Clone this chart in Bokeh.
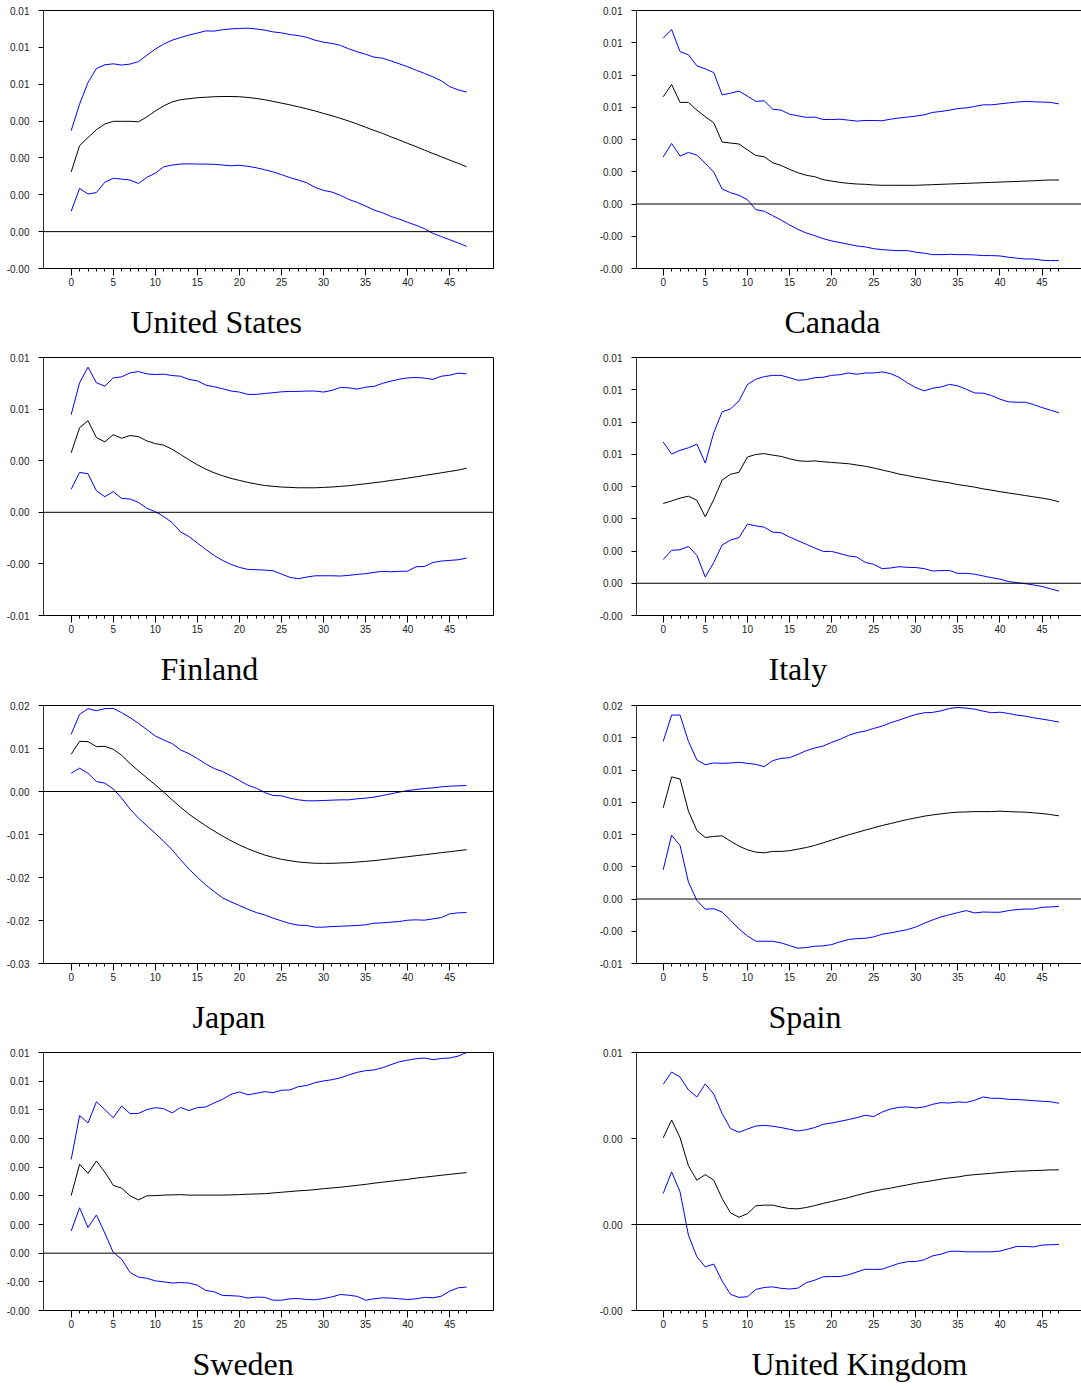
from bokeh.plotting import figure
from bokeh.models import FixedTicker, Span, LinearAxis, Title
from bokeh.layouts import row, column
from bokeh.embed import file_html
from bokeh.resources import INLINE

# horizon (periods)
steps = list(range(48))
x_major = [0, 5, 10, 15, 20, 25, 30, 35, 40, 45]

# values in units of 1e-3
us_upper = [4.11,5.19,6.07,6.64,6.79,6.83,6.78,6.82,6.92,7.18,7.43,7.63,7.79,7.90,8.00,8.08,8.17,8.16,8.22,8.25,8.27,8.28,8.25,8.20,8.13,8.09,8.02,7.98,7.91,7.79,7.71,7.66,7.58,7.44,7.32,7.22,7.10,7.06,6.95,6.83,6.71,6.57,6.44,6.30,6.14,5.90,5.77,5.68]
us_mid = [2.43,3.50,3.83,4.15,4.38,4.49,4.49,4.49,4.47,4.67,4.91,5.12,5.28,5.37,5.41,5.45,5.47,5.49,5.50,5.50,5.49,5.46,5.42,5.37,5.30,5.23,5.16,5.08,5.00,4.91,4.81,4.72,4.61,4.50,4.38,4.25,4.12,4.00,3.86,3.73,3.59,3.46,3.32,3.18,3.05,2.91,2.78,2.64]
us_lower = [0.83,1.76,1.53,1.59,2.01,2.17,2.14,2.10,1.96,2.21,2.38,2.64,2.71,2.75,2.76,2.75,2.75,2.74,2.71,2.68,2.70,2.66,2.60,2.52,2.43,2.32,2.20,2.10,1.99,1.80,1.68,1.61,1.48,1.31,1.19,1.04,0.88,0.77,0.62,0.51,0.38,0.26,0.12,-0.07,-0.20,-0.33,-0.46,-0.60]
us_yticks = [-1.5, 0.0, 1.5, 3.0, 4.5, 6.0, 7.5, 9.0]
us_ylabels = ["-0.00", "0.00", "0.00", "0.00", "0.00", "0.01", "0.01", "0.01"]

ca_upper = [10.28,10.82,9.45,9.25,8.57,8.38,8.15,6.77,6.87,7.00,6.69,6.36,6.40,5.88,5.82,5.57,5.47,5.37,5.39,5.24,5.24,5.26,5.20,5.14,5.18,5.18,5.16,5.26,5.33,5.39,5.45,5.53,5.68,5.74,5.82,5.92,5.96,6.05,6.15,6.15,6.21,6.27,6.32,6.36,6.34,6.32,6.30,6.21]
ca_mid = [6.65,7.41,6.30,6.30,5.82,5.41,5.04,3.84,3.78,3.72,3.36,3.01,2.93,2.56,2.39,2.15,1.94,1.78,1.69,1.51,1.42,1.34,1.28,1.24,1.22,1.18,1.16,1.16,1.16,1.16,1.16,1.18,1.20,1.22,1.24,1.26,1.28,1.30,1.32,1.34,1.36,1.38,1.40,1.42,1.44,1.47,1.49,1.49]
ca_lower = [2.91,3.76,2.97,3.20,3.03,2.52,1.98,0.93,0.70,0.54,0.27,-0.35,-0.45,-0.72,-0.99,-1.30,-1.57,-1.80,-1.96,-2.15,-2.29,-2.39,-2.50,-2.60,-2.66,-2.77,-2.83,-2.87,-2.89,-2.89,-2.99,-3.05,-3.14,-3.14,-3.12,-3.14,-3.14,-3.16,-3.20,-3.20,-3.22,-3.30,-3.36,-3.41,-3.41,-3.49,-3.51,-3.51]
ca_yticks = [-4, -2, 0, 2, 4, 6, 8, 10, 12]
ca_ylabels = ["-0.00", "-0.00", "0.00", "0.00", "0.00", "0.01", "0.01", "0.01", "0.01"]

fi_upper = [7.57,10.04,11.25,10.04,9.78,10.42,10.50,10.81,10.91,10.73,10.68,10.71,10.60,10.55,10.30,10.19,9.86,9.73,9.58,9.40,9.32,9.14,9.14,9.21,9.27,9.34,9.37,9.37,9.40,9.40,9.32,9.45,9.68,9.65,9.55,9.70,9.76,9.99,10.17,10.32,10.42,10.45,10.40,10.30,10.55,10.63,10.79,10.73]
fi_mid = [4.61,6.56,7.10,5.79,5.46,6.02,5.74,5.95,5.87,5.53,5.33,5.20,4.89,4.48,4.07,3.68,3.35,3.06,2.83,2.63,2.47,2.32,2.19,2.08,2.01,1.96,1.93,1.90,1.90,1.90,1.93,1.96,2.01,2.06,2.14,2.21,2.29,2.37,2.47,2.55,2.65,2.75,2.86,2.96,3.06,3.17,3.27,3.42]
fi_lower = [1.78,3.09,2.99,1.67,1.21,1.60,1.08,1.03,0.77,0.31,0.05,-0.33,-0.80,-1.52,-1.88,-2.39,-2.88,-3.35,-3.73,-4.04,-4.27,-4.43,-4.45,-4.48,-4.53,-4.79,-5.04,-5.15,-5.02,-4.92,-4.92,-4.92,-4.94,-4.89,-4.81,-4.76,-4.66,-4.58,-4.61,-4.58,-4.56,-4.22,-4.20,-3.89,-3.78,-3.73,-3.68,-3.55]
fi_yticks = [-8, -4, 0, 4, 8, 12]
fi_ylabels = ["-0.01", "-0.00", "0.00", "0.00", "0.01", "0.01"]

it_upper = [6.57,6.01,6.18,6.30,6.47,5.59,7.00,7.97,8.11,8.48,9.24,9.49,9.61,9.67,9.67,9.56,9.44,9.47,9.56,9.58,9.67,9.70,9.78,9.72,9.78,9.78,9.83,9.75,9.58,9.32,9.10,8.95,9.07,9.13,9.25,9.18,9.02,8.85,8.84,8.73,8.56,8.44,8.42,8.42,8.31,8.17,8.05,7.93]
it_mid = [3.71,3.83,3.96,4.05,3.86,3.09,3.89,4.80,5.07,5.16,5.87,5.99,6.03,5.96,5.90,5.79,5.70,5.67,5.69,5.65,5.62,5.59,5.56,5.50,5.44,5.36,5.27,5.18,5.08,5.01,4.93,4.87,4.79,4.73,4.67,4.59,4.53,4.47,4.39,4.33,4.26,4.20,4.14,4.08,4.02,3.96,3.89,3.79]
it_lower = [1.10,1.53,1.56,1.71,1.30,0.29,0.96,1.78,2.01,2.12,2.75,2.67,2.61,2.38,2.35,2.15,1.98,1.81,1.64,1.48,1.48,1.38,1.27,1.22,0.97,0.88,0.68,0.71,0.77,0.74,0.73,0.68,0.57,0.59,0.59,0.46,0.46,0.42,0.34,0.26,0.19,0.08,0.03,-0.02,-0.08,-0.15,-0.26,-0.36]
it_yticks = [-1.5, 0.0, 1.5, 3.0, 4.5, 6.0, 7.5, 9.0, 10.5]
it_ylabels = ["-0.00", "0.00", "0.00", "0.00", "0.00", "0.01", "0.01", "0.01", "0.01"]

jp_upper = [10.64,14.35,15.41,15.03,15.41,15.47,14.66,13.74,12.68,11.51,10.33,9.59,8.91,7.73,7.05,6.13,5.14,4.27,3.71,2.91,2.04,1.18,0.62,-0.19,-0.74,-0.80,-1.24,-1.55,-1.73,-1.73,-1.67,-1.61,-1.55,-1.55,-1.36,-1.24,-1.05,-0.74,-0.43,-0.12,0.19,0.37,0.56,0.68,0.87,0.99,1.05,1.11]
jp_mid = [6.93,9.34,9.28,8.35,8.41,7.86,6.74,5.20,3.84,2.54,1.24,-0.12,-1.55,-2.91,-4.21,-5.32,-6.37,-7.36,-8.29,-9.16,-9.96,-10.64,-11.26,-11.82,-12.25,-12.62,-12.87,-13.12,-13.24,-13.36,-13.36,-13.36,-13.30,-13.24,-13.12,-12.99,-12.87,-12.68,-12.50,-12.31,-12.13,-11.94,-11.76,-11.57,-11.38,-11.20,-11.01,-10.83]
jp_lower = [3.40,4.33,3.40,1.86,1.55,0.49,-1.24,-3.28,-4.95,-6.37,-7.80,-9.28,-10.83,-12.68,-14.42,-15.96,-17.39,-18.62,-19.80,-20.54,-21.22,-21.90,-22.52,-22.95,-23.57,-24.07,-24.56,-24.87,-24.93,-25.24,-25.24,-25.12,-25.06,-25.00,-24.93,-24.81,-24.50,-24.44,-24.31,-24.19,-23.94,-23.88,-23.94,-23.70,-23.45,-22.77,-22.58,-22.52]
jp_yticks = [-32, -24, -16, -8, 0, 8, 16]
jp_ylabels = ["-0.03", "-0.02", "-0.02", "-0.01", "0.00", "0.01", "0.02"]

es_upper = [13.68,15.97,15.97,13.68,12.07,11.66,11.81,11.78,11.81,11.87,11.78,11.69,11.49,12.01,12.21,12.27,12.56,12.88,13.11,13.28,13.60,13.86,14.20,14.44,14.58,14.81,15.01,15.30,15.53,15.79,16.02,16.17,16.20,16.34,16.54,16.63,16.57,16.48,16.31,16.17,16.22,16.11,15.97,15.88,15.73,15.62,15.50,15.36]
es_mid = [7.91,10.60,10.42,7.62,5.95,5.34,5.43,5.49,5.02,4.59,4.27,4.07,4.01,4.13,4.13,4.19,4.33,4.47,4.65,4.88,5.11,5.34,5.57,5.77,5.98,6.18,6.38,6.55,6.73,6.90,7.04,7.19,7.30,7.39,7.48,7.54,7.56,7.59,7.59,7.59,7.62,7.59,7.56,7.54,7.48,7.42,7.33,7.22]
es_lower = [2.54,5.54,4.65,1.47,-0.12,-0.89,-0.84,-1.13,-1.85,-2.60,-3.20,-3.67,-3.67,-3.67,-3.81,-4.04,-4.27,-4.22,-4.10,-4.07,-3.96,-3.72,-3.52,-3.44,-3.41,-3.29,-3.06,-2.94,-2.80,-2.66,-2.43,-2.11,-1.82,-1.56,-1.36,-1.18,-1.01,-1.21,-1.13,-1.15,-1.15,-1.01,-0.92,-0.87,-0.87,-0.72,-0.69,-0.64]
es_yticks = [-5.6, -2.8, 0.0, 2.8, 5.6, 8.4, 11.2, 14.0, 16.8]
es_ylabels = ["-0.01", "-0.00", "0.00", "0.00", "0.01", "0.01", "0.01", "0.01", "0.02"]

se_upper = [3.92,5.76,5.45,6.34,6.01,5.67,6.16,5.84,5.85,6.01,6.09,6.05,5.87,6.10,5.97,6.09,6.12,6.29,6.44,6.65,6.75,6.63,6.69,6.76,6.72,6.82,6.83,6.97,7.02,7.14,7.21,7.26,7.34,7.46,7.57,7.64,7.67,7.76,7.89,8.01,8.08,8.14,8.17,8.10,8.15,8.17,8.25,8.40]
se_mid = [2.41,3.72,3.34,3.86,3.39,2.84,2.72,2.40,2.23,2.40,2.41,2.43,2.44,2.45,2.43,2.43,2.43,2.43,2.43,2.44,2.45,2.47,2.48,2.49,2.52,2.55,2.58,2.61,2.63,2.66,2.70,2.73,2.76,2.80,2.84,2.88,2.93,2.97,3.01,3.05,3.09,3.14,3.18,3.22,3.26,3.30,3.34,3.37]
se_lower = [0.93,1.90,1.07,1.60,0.84,0.03,-0.25,-0.81,-1.00,-1.05,-1.16,-1.20,-1.25,-1.23,-1.25,-1.34,-1.56,-1.62,-1.77,-1.78,-1.80,-1.88,-1.84,-1.85,-1.97,-1.97,-1.91,-1.90,-1.94,-1.95,-1.90,-1.83,-1.73,-1.76,-1.81,-1.97,-1.91,-1.87,-1.88,-1.91,-1.94,-1.91,-1.85,-1.87,-1.80,-1.59,-1.45,-1.42]
se_yticks = [-2.4, -1.2, 0.0, 1.2, 2.4, 3.6, 4.8, 6.0, 7.2, 8.4]
se_ylabels = ["-0.00", "-0.00", "0.00", "0.00", "0.00", "0.00", "0.00", "0.01", "0.01", "0.01"]

uk_upper = [6.52,7.09,6.86,6.26,5.93,6.54,6.07,5.16,4.46,4.29,4.44,4.58,4.61,4.57,4.51,4.43,4.35,4.41,4.51,4.66,4.72,4.80,4.88,4.97,5.08,5.02,5.23,5.37,5.45,5.47,5.42,5.47,5.59,5.67,5.65,5.70,5.68,5.78,5.93,5.87,5.87,5.82,5.81,5.79,5.76,5.73,5.71,5.64]
uk_mid = [4.03,4.86,4.04,2.73,2.06,2.32,2.06,1.21,0.54,0.34,0.50,0.87,0.90,0.90,0.81,0.74,0.73,0.79,0.88,0.98,1.07,1.16,1.25,1.36,1.46,1.55,1.63,1.69,1.77,1.84,1.92,1.98,2.04,2.11,2.17,2.21,2.28,2.32,2.35,2.38,2.42,2.45,2.48,2.49,2.51,2.52,2.54,2.54]
uk_lower = [1.44,2.45,1.52,-0.50,-1.50,-1.97,-1.84,-2.63,-3.25,-3.39,-3.36,-3.02,-2.93,-2.90,-2.97,-3.00,-2.96,-2.71,-2.59,-2.43,-2.42,-2.42,-2.34,-2.21,-2.08,-2.09,-2.08,-1.94,-1.81,-1.73,-1.72,-1.64,-1.46,-1.38,-1.25,-1.24,-1.27,-1.27,-1.27,-1.27,-1.24,-1.13,-1.02,-1.02,-1.04,-0.96,-0.94,-0.93]
uk_yticks = [-4, 0, 4, 8]
uk_ylabels = ["-0.00", "0.00", "0.00", "0.01"]

countries = ["United States", "Canada", "Finland", "Italy", "Japan", "Spain", "Sweden", "United Kingdom"]

TICK_FONT = "Liberation Sans"
TICK_SIZE = "10px"
TITLE_FONT = "Liberation Serif"
FRAME_H = 258
TOP = 10


def panel(name, upper, mid, lower, yticks, ylabels, right_side, title_left, height):
    for s in (upper, mid, lower):
        assert len(s) == len(steps), name
    if right_side:
        width, mbl, mbr, xr, fleft = 485, 40, 0, (-3.17, 49.68), 636
    else:
        width, mbl, mbr, xr, fleft = 596, 43, 103, (-3.29, 50.20), 43
    p = figure(width=width, height=height, x_range=xr, y_range=(yticks[0], yticks[-1]),
               output_backend="svg", toolbar_location=None, title=None,
               min_border_left=mbl, min_border_right=mbr, min_border_top=TOP,
               min_border_bottom=height - TOP - FRAME_H)
    p.grid.visible = False
    p.background_fill_color = "white"
    p.border_fill_color = "white"
    if right_side:
        p.outline_line_color = None
        top = LinearAxis(ticker=FixedTicker(ticks=[]), major_tick_out=0, major_tick_in=0,
                         minor_tick_out=0, minor_tick_in=0, major_label_text_font_size="0px",
                         major_label_standoff=0, axis_line_color="black", axis_line_width=1)
        p.add_layout(top, "above")
    else:
        p.outline_line_color = "black"
        p.outline_line_alpha = 1.0
        p.outline_line_width = 1

    xa = p.below[0]
    xa.ticker = FixedTicker(ticks=x_major, minor_ticks=steps)
    xa.major_tick_out = 7
    xa.major_tick_in = 0
    xa.minor_tick_out = 3
    xa.minor_tick_in = 0
    xa.major_label_standoff = 2
    xa.major_label_text_font = TICK_FONT
    xa.major_label_text_font_size = TICK_SIZE
    xa.major_label_text_color = "#222222"
    xa.axis_line_color = "black"
    # blank axis label: only reserves space between tick labels and the country name
    xa.axis_label = " "
    xa.axis_label_text_font_size = "6px"
    xa.axis_label_standoff = 5

    ya = p.left[0]
    ya.ticker = FixedTicker(ticks=yticks, minor_ticks=[])
    ya.major_label_overrides = dict(zip(yticks, ylabels))
    ya.major_tick_out = 5
    ya.major_tick_in = 0
    ya.minor_tick_out = 0
    ya.minor_tick_in = 0
    ya.major_label_standoff = 9
    ya.major_label_text_font = TICK_FONT
    ya.major_label_text_font_size = TICK_SIZE
    ya.major_label_text_color = "#222222"
    ya.axis_line_color = "#333333"

    p.add_layout(Span(location=0, dimension="width", line_color="black", line_width=1))
    p.line(steps, upper, line_color="#0000ff", line_width=1)
    p.line(steps, lower, line_color="#0000ff", line_width=1)
    p.line(steps, mid, line_color="black", line_width=1)

    p.add_layout(Title(text=name, align="left", offset=title_left - fleft,
                       vertical_align="top", standoff=2,
                       text_font=TITLE_FONT, text_font_size="32px",
                       text_font_style="normal", text_color="black"), "below")
    return p


p1 = panel(countries[0], us_upper, us_mid, us_lower, us_yticks, us_ylabels, False, 130, 347)
p2 = panel(countries[1], ca_upper, ca_mid, ca_lower, ca_yticks, ca_ylabels, True, 784, 347)
p3 = panel(countries[2], fi_upper, fi_mid, fi_lower, fi_yticks, fi_ylabels, False, 160, 348)
p4 = panel(countries[3], it_upper, it_mid, it_lower, it_yticks, it_ylabels, True, 768, 348)
p5 = panel(countries[4], jp_upper, jp_mid, jp_lower, jp_yticks, jp_ylabels, False, 192, 347)
p6 = panel(countries[5], es_upper, es_mid, es_lower, es_yticks, es_ylabels, True, 768, 347)
p7 = panel(countries[6], se_upper, se_mid, se_lower, se_yticks, se_ylabels, False, 192, 344)
p8 = panel(countries[7], uk_upper, uk_mid, uk_lower, uk_yticks, uk_ylabels, True, 751, 344)

layout = column(row(p1, p2), row(p3, p4), row(p5, p6), row(p7, p8))

open("out.html", "w").write(file_html(layout, INLINE))
